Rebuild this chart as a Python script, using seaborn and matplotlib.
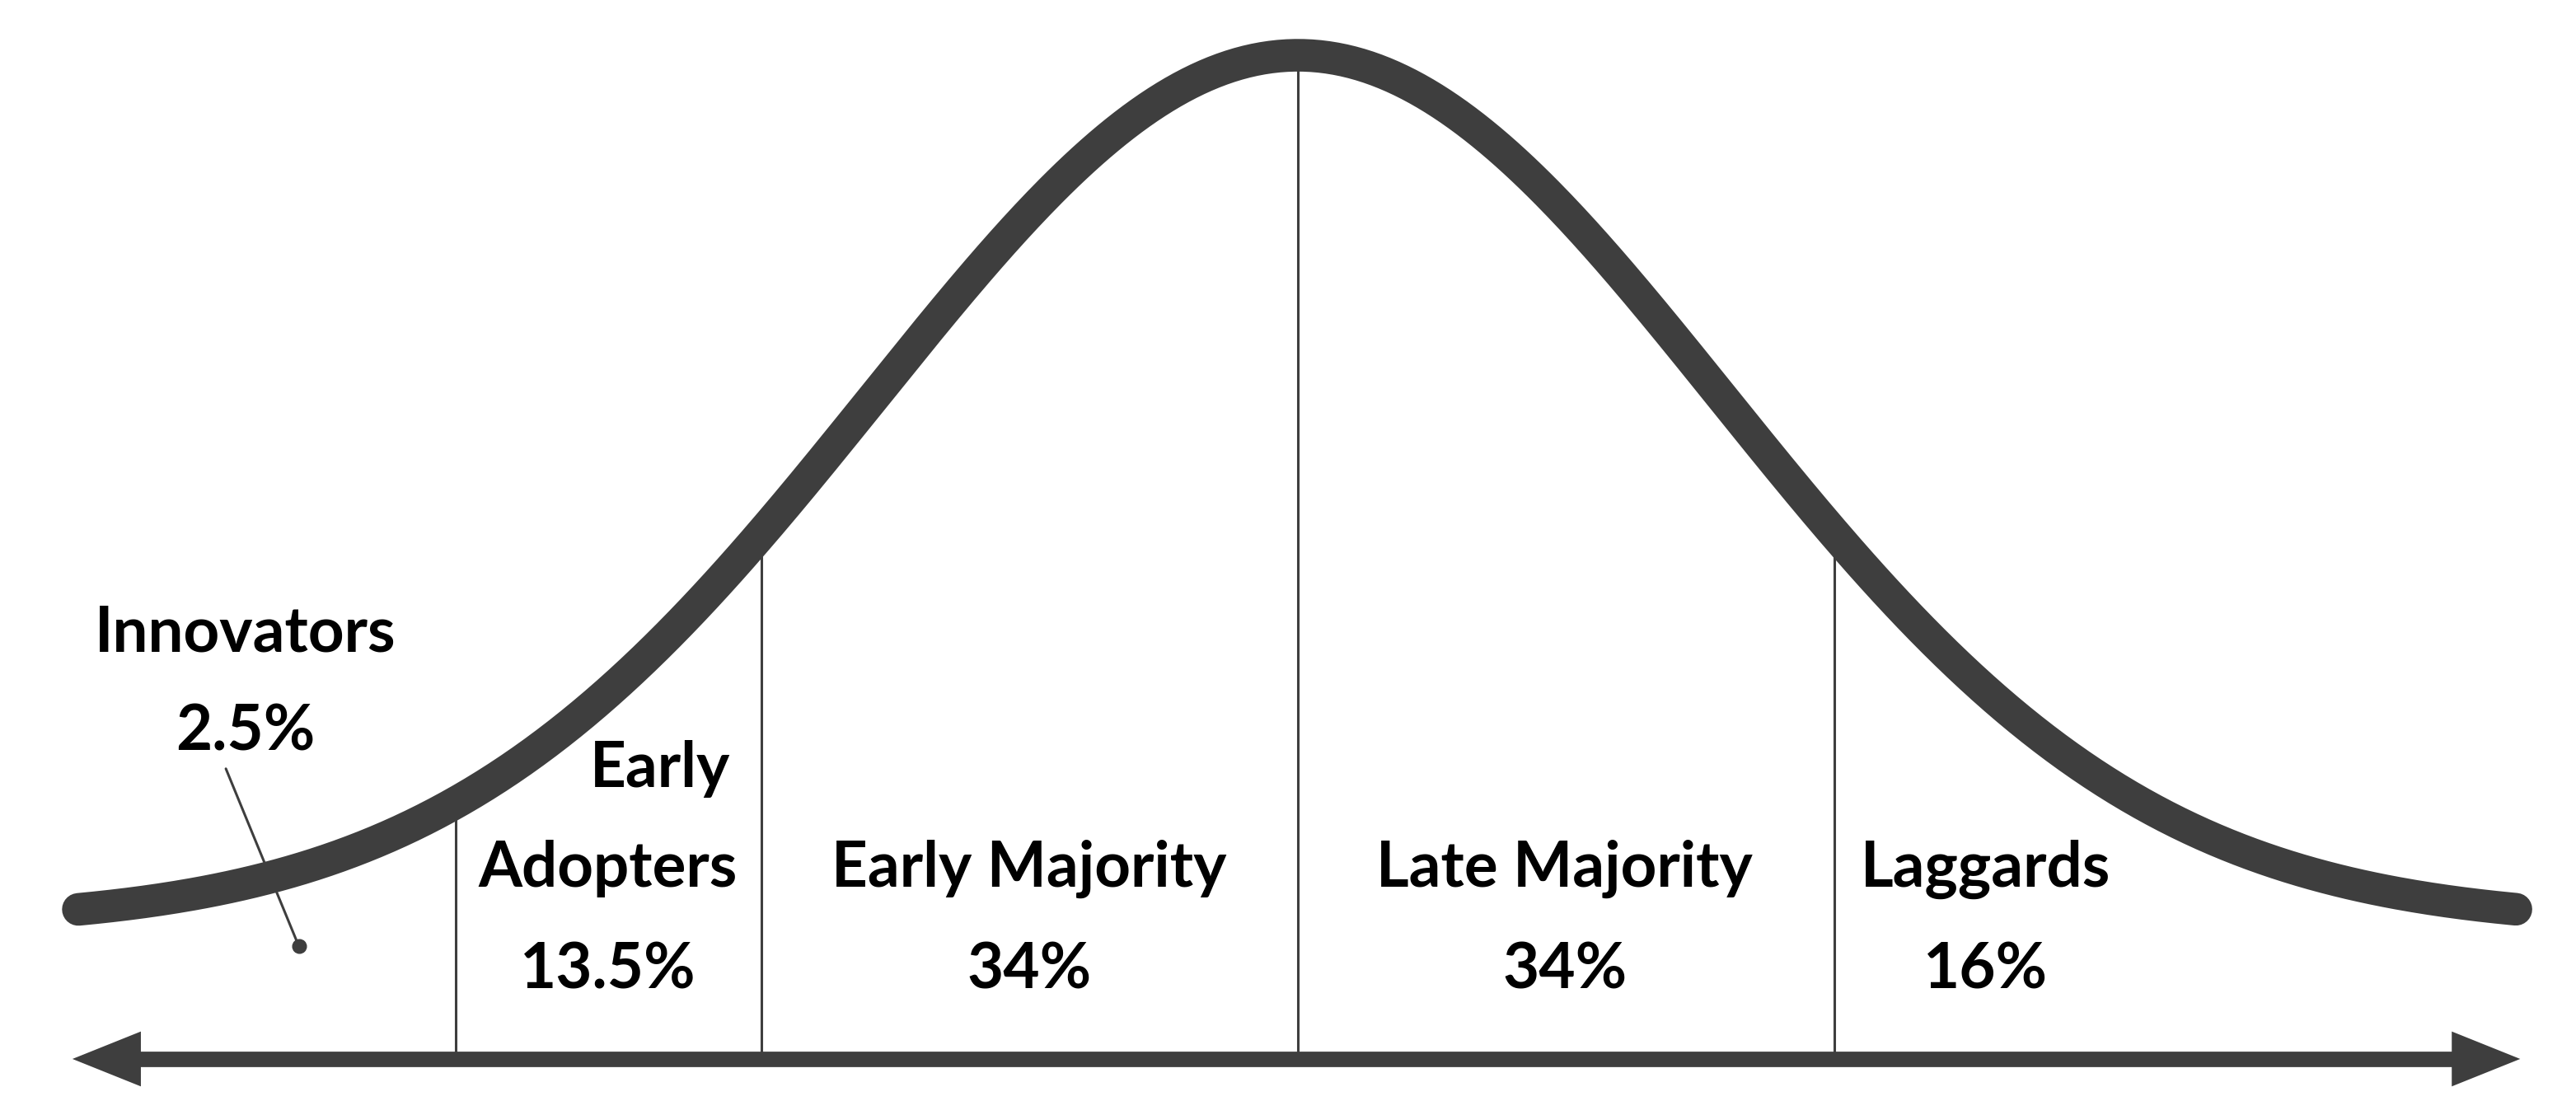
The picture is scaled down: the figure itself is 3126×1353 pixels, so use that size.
import numpy as np
import matplotlib
matplotlib.use('Agg')
import matplotlib.pyplot as plt
import seaborn as sns
from matplotlib.patches import ArrowStyle

# segments of the adoption curve (x in units of one boundary step)
segments = ['Innovators', 'Early\nAdopters', 'Early Majority', 'Late Majority', 'Laggards']
shares = ['2.5%', '13.5%', '34%', '34%', '16%']
boundaries = [-1.57, -1.0, 0.0, 1.0]

# bell curve
curve_mean = 0.0
curve_sd = 0.79
curve_floor = 0.253
curve_peak = 1.871
curve_left, curve_right = -2.273, 2.270
axis_left, axis_right = -2.284, 2.278

# label anchors (x, baseline of name, baseline of share)
label_x = [-1.962, -1.286, -0.501, 0.497, 1.281]
name_y = 0.321
share_y = 0.131

GREY = '#3e3e3e'


def bell(x):
    x = np.asarray(x, dtype=float)
    return curve_floor + (curve_peak - curve_floor) * np.exp(-0.5 * ((x - curve_mean) / curve_sd) ** 2)


sns.set_style('white')
plt.rcParams['font.family'] = ['Lato', 'DejaVu Sans']

fig = plt.figure(figsize=(31.26, 13.53), dpi=100)
ax = fig.add_axes([0, 0, 1, 1])

xs = np.linspace(curve_left, curve_right, 600)
sns.lineplot(x=xs, y=bell(xs), ax=ax, color=GREY, linewidth=28.5,
             solid_capstyle='round', sort=False, zorder=3)

# segment dividers up to the curve
ax.vlines(boundaries, 0, bell(boundaries), color=GREY, linewidth=2.2, zorder=2)

# double-headed base arrow
head_len = 0.1275
ax.plot([axis_left + head_len * 0.9, axis_right - head_len * 0.9], [0, 0],
        color=GREY, linewidth=13.5, solid_capstyle='butt', zorder=2)
ax.annotate('', xy=(axis_right, 0), xytext=(axis_left, 0),
            arrowprops=dict(arrowstyle=ArrowStyle('<|-|>', head_length=59.8, head_width=24),
                            mutation_scale=1, linewidth=0, color=GREY,
                            shrinkA=0, shrinkB=0), zorder=2)

txt = dict(fontsize=55, fontweight='bold', color='black', zorder=4)

# Innovators, pointed at the tail with a leader line
ax.text(label_x[0], 0.760, segments[0], ha='center', va='baseline', **txt)
ax.text(label_x[0], 0.576, shares[0], ha='center', va='baseline', **txt)
ax.plot([-1.998, -1.862], [0.541, 0.210], color=GREY, linewidth=2.2, zorder=3)
ax.plot([-1.862], [0.210], marker='o', markersize=12, color=GREY, zorder=3)

# Early Adopters: first word right aligned over the second
first, second = segments[1].split('\n')
ax.text(-1.058, 0.507, first, ha='right', va='baseline', **txt)
ax.text(label_x[1], name_y, second, ha='center', va='baseline', **txt)
ax.text(label_x[1], share_y, shares[1], ha='center', va='baseline', **txt)

for name, share, x in zip(segments[2:], shares[2:], label_x[2:]):
    ax.text(x, name_y, name, ha='center', va='baseline', **txt)
    ax.text(x, share_y, share, ha='center', va='baseline', **txt)

ax.set_xlim(-2.419, 2.382)
ax.set_ylim(-0.1045, 1.974)
ax.axis('off')

fig.savefig('out.png', dpi=100, facecolor='white')
